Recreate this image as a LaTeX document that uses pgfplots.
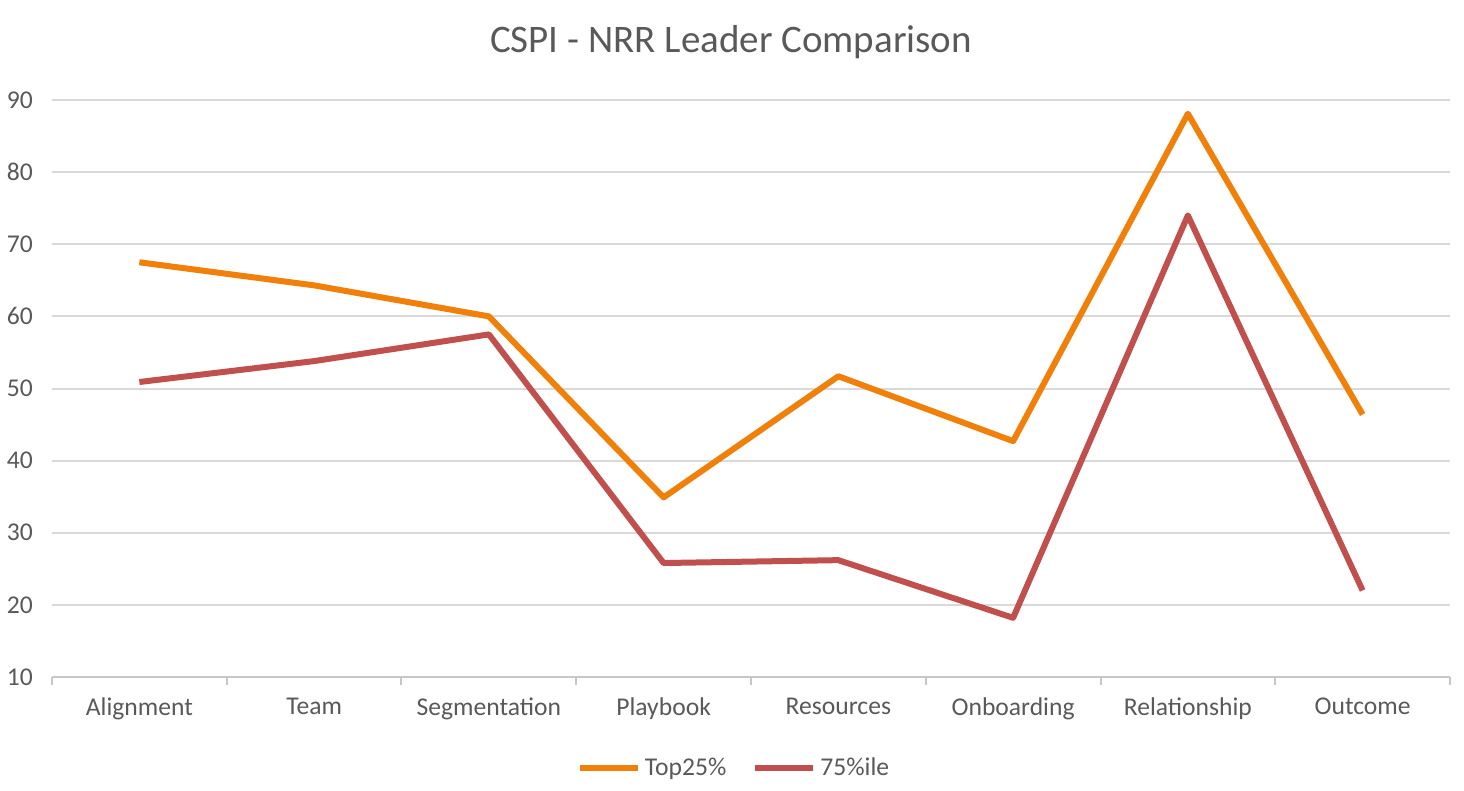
\documentclass[border=0pt]{standalone}
\usepackage{pgfplots}
\pgfplotsset{compat=1.18}
\usepackage{fontspec}
\setmainfont{Carlito}
\definecolor{topc}{RGB}{240,128,10}
\definecolor{pctc}{RGB}{192,80,77}
\definecolor{txt}{RGB}{89,89,89}
\definecolor{grd}{RGB}{217,217,217}

\begin{document}
\begin{tikzpicture}
  \path (0,0) rectangle (732pt,395.5pt);
  \begin{axis}[
    at={(26pt,57pt)}, anchor=south west,
    scale only axis,
    width=699pt, height=288.5pt,
    xmin=-0.5, xmax=7.5,
    ymin=10, ymax=90,
    ytick={10,20,...,90},
    xtick={0,...,7},
    xticklabels={Alignment,Team,Segmentation,Playbook,Resources,Onboarding,Relationship,Outcome},
    minor xtick={-0.5,0.5,...,7.5},
    major tick length=0pt,
    minor tick length=4pt,
    tick align=outside,
    axis x line*=bottom,
    axis y line*=left,
    x axis line style={draw=grd!80!gray, line width=1pt, -},
    y axis line style={draw=none},
    minor x tick style={draw=grd!80!gray, line width=1pt},
    ytick style={draw=none},
    ymajorgrids,
    grid style={draw=grd, line width=1pt},
    /pgf/number format/assume math mode=true,
    font=\fontsize{12.8}{14}\selectfont,
    tick label style={text=txt},
    yticklabel style={xshift=-6pt},
    xticklabel style={yshift=-7pt},
    legend columns=2,
    legend style={at={(0.4886,0)}, anchor=center, yshift=-45.5pt, draw=none,
      text=txt, font=\fontsize{12.8}{14}\selectfont,
      /tikz/every odd column/.append style={column sep=0pt},
      /tikz/every even column/.append style={column sep=11pt}},
    legend image code/.code={\draw[#1] (0pt,0pt) -- (29pt,0pt);},
  ]
  \addplot[topc, line width=3pt, line join=round] coordinates {
    (0,67.5) (1,64.3) (2,60.0) (3,34.9) (4,51.7) (5,42.7) (6,88.1) (7,46.4)};
  \addlegendentry{Top25\%}
  \addplot[pctc, line width=3pt, line join=round] coordinates {
    (0,50.9) (1,53.8) (2,57.5) (3,25.8) (4,26.2) (5,18.2) (6,74.0) (7,22.0)};
  \addlegendentry{75\%ile}
  \end{axis}
  \node[text=txt, font=\fontsize{19.5}{22}\selectfont] at (365.5pt,374.5pt) {CSPI - NRR Leader Comparison};
\end{tikzpicture}
\end{document}
